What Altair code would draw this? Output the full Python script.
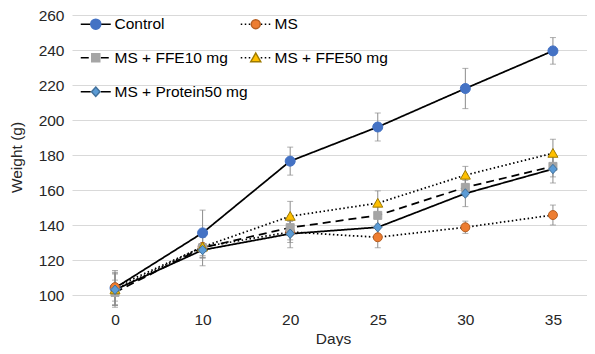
import altair as alt
import pandas as pd

days = ["0", "10", "20", "25", "30", "35"]
series_names = ["Control", "MS", "MS + FFE10 mg", "MS + FFE50 mg", "MS + Protein50 mg"]

control = [104, 135.5, 176.5, 196, 218, 239.5]
ms = [104.5, 127.5, 136, 133, 138.7, 145.7]
ffe10 = [101.5, 127, 138.5, 145.5, 161.5, 173.5]
ffe50 = [103, 127.5, 145, 152.5, 168.5, 181]
protein = [103, 125.7, 135, 138.7, 158, 172]

control_err = [10, 13, 8, 8, 11.5, 7.6]
ms_err = [8, 6, 6, 6, 3.5, 5.7]
ffe10_err = [7, 6, 7, 5, 5, 6]
ffe50_err = [9, 6, 8.5, 7, 5, 8]
protein_err = [10, 9, 8, 6, 7.5, 8]

y_ticks = [100, 120, 140, 160, 180, 200, 220, 240, 260]

fill_colors = ["#4472C4", "#ED7D31", "#A5A5A5", "#FFC000", "#5B9BD5"]
stroke_colors = ["#4472C4", "#B65F22", "#A5A5A5", "#9E7A00", "#41719C"]
dashes = [[1, 0], [1.5, 2.5], [8, 5], [1.5, 2.5], [1, 0]]
extent = "M-3,0M3,0"
marker_paths = [
    extent + "M-1,0A1,1 0 1,0 1,0A1,1 0 1,0 -1,0Z",
    extent + "M-0.9,0A0.9,0.9 0 1,0 0.9,0A0.9,0.9 0 1,0 -0.9,0Z",
    extent + "M-0.8,-0.8H0.8V0.8H-0.8Z",
    extent + "M0,-0.95L1,0.8H-1Z",
    extent + "M0,-0.95L0.85,0L0,0.95L-0.85,0Z",
]
legend_line_path = "M-3,0H-1M1,0H3"

values = [control, ms, ffe10, ffe50, protein]
errors = [control_err, ms_err, ffe10_err, ffe50_err, protein_err]

rows = []
for name, vals, errs in zip(series_names, values, errors):
    for d, v, e in zip(days, vals, errs):
        rows.append({"day": d, "series": name, "series_m": name,
                     "weight": v, "lo": v - e, "hi": v + e})
df = pd.DataFrame(rows)

FONT = "Liberation Sans"
FS = 15.5
TXT = "#262626"

x_enc = alt.X(
    "day:O", sort=days,
    scale=alt.Scale(type="point", padding=0.44, align=0.558),
    axis=alt.Axis(title="Days", labelAngle=0, grid=False, domain=False, ticks=False,
                  labelPadding=17, labelFont=FONT, labelFontSize=FS, labelColor=TXT,
                  titleFont=FONT, titleFontSize=FS, titleFontWeight="normal", titleColor=TXT,
                  titleX=261, titleY=48, titleBaseline="alphabetic"),
)

y_scale = alt.Scale(domain=[100, 260], nice=False, zero=False)
y_axis = alt.Axis(values=y_ticks, grid=True, gridColor="#d9d9d9", gridWidth=1, domain=False,
                  ticks=False, labelPadding=8, labelFont=FONT, labelFontSize=FS, labelColor=TXT,
                  title="Weight (g)", titleFont=FONT, titleFontSize=FS, titleFontWeight="normal",
                  titleColor=TXT, titleAngle=-90, titleX=-51, titleY=142,
                  titleAlign="center", titleBaseline="alphabetic")


def yenc(field):
    return alt.Y(field, type="quantitative", scale=y_scale, axis=y_axis, title="Weight (g)")


base = alt.Chart(df)
err_color = "#8c8c8c"

err_rule = base.mark_rule(color=err_color, strokeWidth=1).encode(
    x=x_enc, y=yenc("lo"), y2="hi:Q", detail="series:N")
err_lo = base.mark_tick(color=err_color, size=6, thickness=1).encode(
    x=x_enc, y=yenc("lo"), detail="series:N")
err_hi = base.mark_tick(color=err_color, size=6, thickness=1).encode(
    x=x_enc, y=yenc("hi"), detail="series:N")

common_legend = dict(orient="none", legendX=16, legendY=1, columns=2,
                     direction="horizontal",
                     rowPadding=17, padding=0, title=None, symbolSize=100,
                     symbolStrokeWidth=1.5, labelOffset=11, labelFont=FONT,
                     labelFontSize=FS, labelLimit=300)

legend_a = alt.Legend(symbolType=legend_line_path, symbolStrokeColor="black",
                      labelColor="#000000", columnPadding=-12, **common_legend)
legend_b = alt.Legend(symbolOpacity=1, labelExpr="''", labelColor="#000000",
                      columnPadding=122, **common_legend)

lines = base.mark_line(color="black", strokeWidth=1.75).encode(
    x=x_enc, y=yenc("weight"),
    strokeDash=alt.StrokeDash("series:N", sort=series_names, scale=alt.Scale(range=dashes),
                              legend=legend_a),
)

points = base.mark_point(filled=True, size=100, opacity=1, strokeWidth=1).encode(
    x=x_enc, y=yenc("weight"),
    shape=alt.Shape("series_m:N", scale=alt.Scale(domain=series_names, range=marker_paths),
                    legend=legend_b),
    fill=alt.Fill("series_m:N", scale=alt.Scale(domain=series_names, range=fill_colors),
                  legend=legend_b),
    stroke=alt.Stroke("series_m:N", scale=alt.Scale(domain=series_names, range=stroke_colors),
                      legend=legend_b),
)

chart = alt.layer(err_rule, err_lo, err_hi, lines, points).properties(
    width=515, height=280,
    autosize=alt.AutoSizeParams(type="none"),
    padding={"left": 64, "top": 7, "right": 0, "bottom": 51},
    background="white",
).configure_view(stroke=None)

chart.save("out.html", embed_options={"renderer": "svg", "actions": False})
